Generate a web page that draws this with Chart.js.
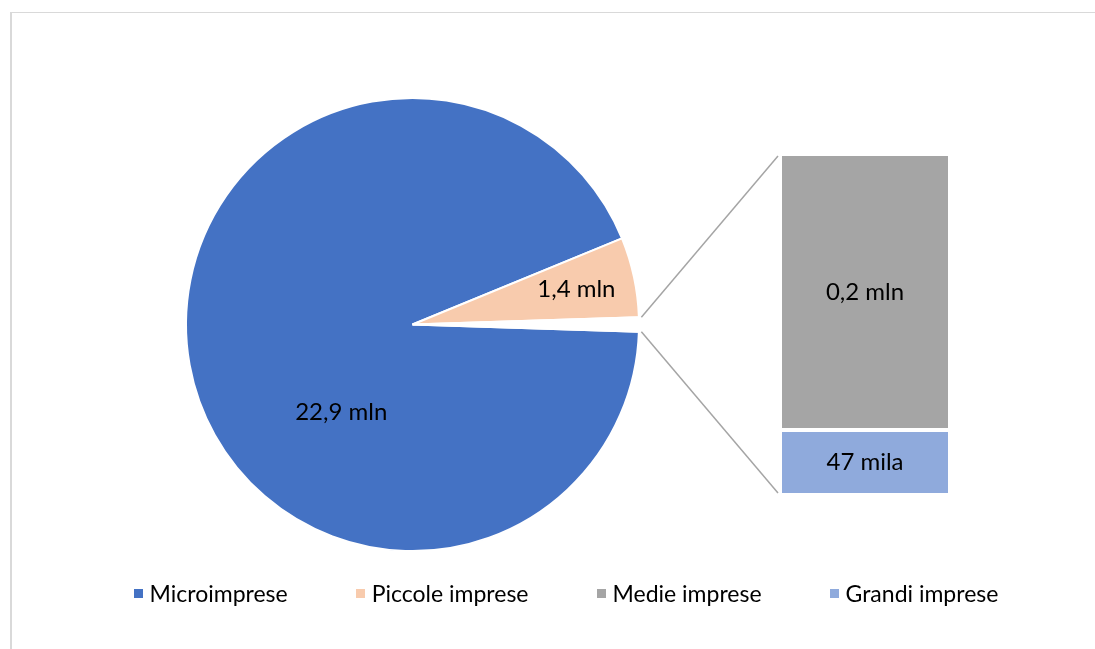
<!DOCTYPE html>
<html lang="it">
<head>
<meta charset="utf-8">
<title>Imprese per classe dimensionale</title>
<script src="https://cdn.jsdelivr.net/npm/chart.js@4.4.1/dist/chart.umd.min.js"></script>
<style>
  html, body { margin: 0; padding: 0; background: #fff; overflow: hidden; }
  #wrap { position: relative; width: 1095px; height: 649px; overflow: hidden; font-family: Lato, "Open Sans", sans-serif; }
  #frame { position: absolute; left: 10px; top: 12px; width: 1200px; height: 700px;
           border-left: 2px solid #d9d9d9; border-top: 1px solid #d9d9d9; box-sizing: border-box; }
  #pie { position: absolute; left: 0; top: 0; }
  #bar { position: absolute; left: 782px; top: 154px; }
  #legend { position: absolute; left: 0; top: 580px; width: 1132px; display: flex; justify-content: center;
            gap: 68px; font-size: 23px; line-height: 26px; color: #000; }
  .item { display: flex; align-items: center; white-space: nowrap; }
  .box { width: 9px; height: 9px; margin-right: 7px; }
</style>
</head>
<body>
<div id="wrap">
  <div id="frame"></div>
  <canvas id="pie" width="1095" height="649"></canvas>
  <canvas id="bar" width="166" height="341"></canvas>
  <div id="legend"></div>
</div>
<script>
// addetti in milioni
const sliceLabels = ['Microimprese', 'Piccole imprese'];
const sliceValues = [22.9, 1.4];
const sliceColors = ['#4472C4', '#F8CBAD'];

// dettaglio della fetta "altre"
const barLabels = ['Medie imprese', 'Grandi imprese'];
const barValues = [0.2, 0.047];
const barColors = ['#A5A5A5', '#8FAADC'];

const labelFont = '24px Lato, "Open Sans", sans-serif';

function fmt(v) {
    if (v >= 0.1) return v.toFixed(1).replace('.', ',') + ' mln';
    return Math.round(v * 1000) + ' mila';
}

const otherTotal = barValues.reduce((a, b) => a + b, 0);
const grandTotal = sliceValues.reduce((a, b) => a + b, 0) + otherTotal;

// label placement inside the pie: fixed angle (deg) or slice middle, distance as share of radius
const pieLabelSpots = [{ angle: 129, dist: 0.5 }, { angle: null, dist: 0.74 }];

const barValueLabels = {
    id: 'barValueLabels',
    afterDatasetsDraw(chart) {
        const ctx = chart.ctx;
        ctx.save();
        ctx.font = labelFont;
        ctx.fillStyle = '#000';
        ctx.textAlign = 'center';
        ctx.textBaseline = 'middle';
        chart.data.datasets.forEach((ds, i) => {
            const el = chart.getDatasetMeta(i).data[0];
            ctx.fillText(fmt(ds.data[0]), el.x, (el.y + el.base) / 2);
        });
        ctx.restore();
    }
};

// stacked column: Grandi at the bottom, Medie on top
const barChart = new Chart(document.getElementById('bar'), {
    type: 'bar',
    data: {
        labels: ['Altre'],
        datasets: [
            { label: barLabels[1], data: [barValues[1]], backgroundColor: barColors[1] },
            { label: barLabels[0], data: [barValues[0]], backgroundColor: barColors[0] }
        ]
    },
    options: {
        responsive: false,
        animation: false,
        layout: { padding: 0 },
        datasets: {
            bar: {
                barPercentage: 1,
                categoryPercentage: 1,
                borderColor: '#fff',
                borderWidth: { top: 2, bottom: 2, left: 0, right: 0 },
                borderSkipped: false,
                inflateAmount: 0
            }
        },
        scales: {
            x: { display: false, stacked: true },
            y: { display: false, stacked: true, min: 0, max: otherTotal }
        },
        plugins: { legend: { display: false }, tooltip: { enabled: false } }
    },
    plugins: [barValueLabels]
});

const pieValueLabels = {
    id: 'pieValueLabels',
    afterDatasetsDraw(chart) {
        const ctx = chart.ctx;
        const arcs = chart.getDatasetMeta(0).data;
        ctx.save();
        ctx.font = labelFont;
        ctx.fillStyle = '#000';
        ctx.textAlign = 'center';
        ctx.textBaseline = 'middle';
        sliceValues.forEach((v, i) => {
            const a = arcs[i];
            const spot = pieLabelSpots[i];
            const ang = spot.angle == null ? (a.startAngle + a.endAngle) / 2 : spot.angle * Math.PI / 180;
            const r = a.outerRadius * spot.dist;
            ctx.fillText(fmt(v), a.x + Math.cos(ang) * r, a.y + Math.sin(ang) * r);
        });
        ctx.restore();
    }
};

// lines from the "altre" slice to the corners of the column
const connectorLines = {
    id: 'connectorLines',
    afterDraw(chart) {
        const ctx = chart.ctx;
        const arc = chart.getDatasetMeta(0).data[2];
        const pr = chart.canvas.getBoundingClientRect();
        const br = barChart.canvas.getBoundingClientRect();
        const dx = br.left - pr.left, dy = br.top - pr.top;
        const topBar = barChart.getDatasetMeta(1).data[0];
        const lowBar = barChart.getDatasetMeta(0).data[0];
        const x = dx + topBar.x - topBar.width / 2 - 4;
        const r = arc.outerRadius + 2.5;
        const ends = [[arc.startAngle, dy + topBar.y + 2], [arc.endAngle, dy + lowBar.base - 2]];
        ctx.save();
        ctx.strokeStyle = '#A5A5A5';
        ctx.lineWidth = 1.5;
        ends.forEach(([ang, y]) => {
            ctx.beginPath();
            ctx.moveTo(arc.x + Math.cos(ang) * r, arc.y + Math.sin(ang) * r);
            ctx.lineTo(x, y);
            ctx.stroke();
        });
        ctx.restore();
    }
};

const pieChart = new Chart(document.getElementById('pie'), {
    type: 'pie',
    data: {
        labels: [...sliceLabels, 'Altre'],
        datasets: [{
            data: [...sliceValues, otherTotal],
            backgroundColor: [...sliceColors, '#fff'],
            borderColor: '#fff',
            borderWidth: 2
        }]
    },
    options: {
        responsive: false,
        animation: false,
        radius: 226.5,
        // centre the "altre" slice on the right-hand horizontal
        rotation: 90 + otherTotal / grandTotal * 180,
        layout: { padding: { left: 0, right: 270, top: 0, bottom: 0 } },
        plugins: { legend: { display: false }, tooltip: { enabled: false } }
    },
    plugins: [pieValueLabels, connectorLines]
});

// legend under the chart
const legend = document.getElementById('legend');
[...sliceLabels, ...barLabels].forEach((name, i) => {
    const color = [...sliceColors, ...barColors][i];
    const item = document.createElement('div');
    item.className = 'item';
    item.innerHTML = '<span class="box" style="background:' + color + '"></span><span>' + name + '</span>';
    legend.appendChild(item);
});
</script>
</body>
</html>
